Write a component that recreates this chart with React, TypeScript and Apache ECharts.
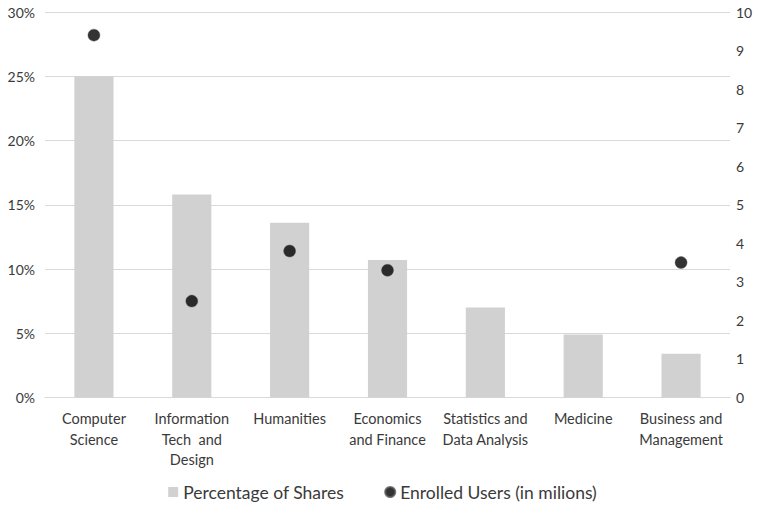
import React, { useEffect, useRef } from "react";
import * as echarts from "echarts";

const categories = [
  "Computer\nScience",
  "Information\nTech  and\nDesign",
  "Humanities",
  "Economics\nand Finance",
  "Statistics and\nData Analysis",
  "Medicine",
  "Business and\nManagement",
];

// share of courses, in percent
const shareValues = [25, 15.8, 13.6, 10.7, 7.0, 4.9, 3.4];

// enrolled users, in millions (no figure for two subjects)
const enrolledValues: (number | null)[] = [9.4, 2.5, 3.8, 3.3, null, null, 3.5];

const FONT = "Lato, 'Open Sans', sans-serif";
const TEXT_COLOR = "#3a3a3a";

export default function App() {
  const ref = useRef<HTMLDivElement>(null);

  useEffect(() => {
    if (!ref.current) return;
    const chart = echarts.init(ref.current, null, { renderer: "svg" });
    chart.setOption({
      animation: false,
      textStyle: { fontFamily: FONT },
      grid: { left: 45, right: 35, top: 12, bottom: 115.5, containLabel: false },
      legend: {
        bottom: 7,
        left: "center",
        itemGap: 40,
        itemWidth: 10,
        itemHeight: 10,
        textStyle: { fontFamily: FONT, fontSize: 17.5, color: TEXT_COLOR },
        data: [
          { name: "Percentage of Shares", icon: "rect" },
          { name: "Enrolled Users (in milions)", icon: "circle", itemStyle: { color: "#000" } },
        ],
      },
      xAxis: {
        type: "category",
        data: categories,
        axisTick: { show: false },
        axisLine: { show: true, lineStyle: { color: "#d9d9d9", width: 1 } },
        axisLabel: {
          interval: 0,
          fontFamily: FONT,
          fontSize: 14.5,
          lineHeight: 20.5,
          color: TEXT_COLOR,
          margin: 11,
        },
      },
      yAxis: [
        {
          type: "value",
          min: 0,
          max: 30,
          interval: 5,
          axisLine: { show: false },
          axisTick: { show: false },
          axisLabel: {
            formatter: "{value}%",
            fontFamily: FONT,
            fontSize: 14,
            color: TEXT_COLOR,
            margin: 10,
          },
          splitLine: { lineStyle: { color: "#d9d9d9", width: 1 } },
        },
        {
          type: "value",
          min: 0,
          max: 10,
          interval: 1,
          axisLine: { show: false },
          axisTick: { show: false },
          axisLabel: {
            fontFamily: FONT,
            fontSize: 14,
            color: TEXT_COLOR,
            margin: 6,
          },
          splitLine: { show: false },
        },
      ],
      series: [
        {
          name: "Percentage of Shares",
          type: "bar",
          yAxisIndex: 0,
          data: shareValues,
          barWidth: "40%",
          itemStyle: { color: "#d0d1d0" },
        },
        {
          name: "Enrolled Users (in milions)",
          type: "scatter",
          yAxisIndex: 1,
          data: enrolledValues,
          symbol: "circle",
          symbolSize: 12,
          itemStyle: { color: "#000000", borderColor: "#555555", borderWidth: 0.5 },
        },
      ],
    });
    return () => chart.dispose();
  }, []);

  return (
    <div
      ref={ref}
      style={{ position: "absolute", left: 0, top: 0, width: 765, height: 513 }}
    />
  );
}
